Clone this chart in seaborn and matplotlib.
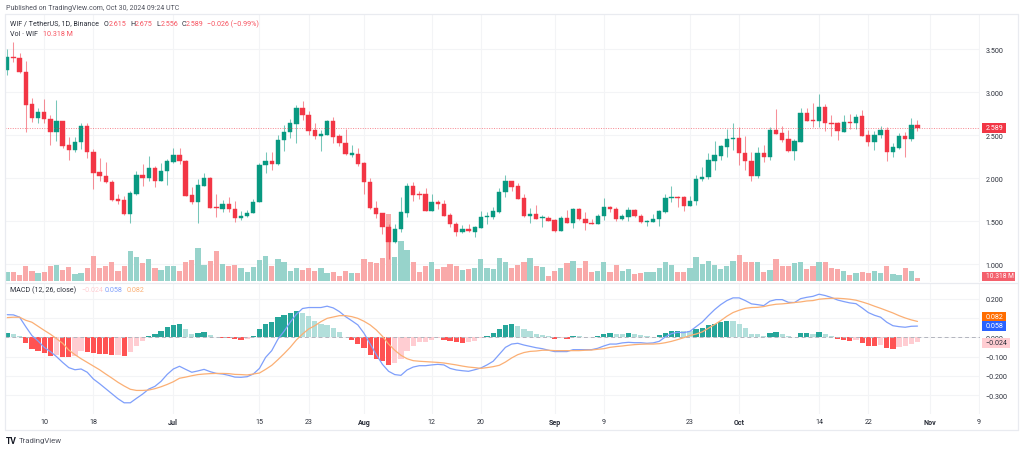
import numpy as np
import pandas as pd
import matplotlib
matplotlib.use("Agg")
import matplotlib.pyplot as plt
from matplotlib.lines import Line2D
from matplotlib.patches import Rectangle
from matplotlib.ticker import FuncFormatter, FixedLocator
import seaborn as sns

start_date = "2024-06-04"

opens = [3.263,3.414,3.399,3.236,2.861,2.701,2.775,2.690,2.538,2.666,
2.387,2.329,2.419,2.608,2.309,2.070,2.023,1.954,1.759,1.744,
1.581,1.817,2.038,2.000,2.116,1.972,2.081,2.186,2.271,2.205,
1.809,1.721,1.914,2.007,1.670,1.643,1.701,1.643,1.535,1.565,
1.597,1.721,2.155,2.201,2.166,2.442,2.542,2.635,2.821,2.740,
2.558,2.492,2.507,2.666,2.492,2.414,2.275,2.283,2.178,1.961,
1.658,1.593,1.434,1.256,1.411,1.600,1.911,1.821,1.817,1.620,
1.721,1.701,1.570,1.469,1.379,1.414,1.379,1.422,1.547,1.550,
1.612,1.837,1.965,1.907,1.768,1.565,1.585,1.542,1.542,1.515,
1.387,1.538,1.480,1.640,1.530,1.484,1.469,1.562,1.666,1.647,
1.530,1.550,1.631,1.565,1.492,1.496,1.527,1.605,1.771,1.783,
1.779,1.682,1.736,1.988,2.012,2.205,2.263,2.368,2.461,2.465,
2.298,2.201,2.027,2.294,2.244,2.565,2.527,2.454,2.321,2.426,
2.763,2.678,2.663,2.829,2.647,2.640,2.542,2.658,2.640,2.721,
2.504,2.422,2.504,2.558,2.306,2.352,2.488,2.461,2.615]
highs = [3.504,3.588,3.454,3.361,2.937,2.818,2.919,2.733,2.911,2.672,
2.484,2.484,2.643,2.640,2.341,2.236,2.193,1.984,1.817,1.798,
1.856,2.088,2.166,2.263,2.147,2.178,2.225,2.352,2.352,2.211,
1.902,1.992,2.062,2.012,1.817,1.748,1.783,1.733,1.616,1.635,
1.759,2.178,2.302,2.302,2.504,2.620,2.690,2.852,2.895,2.779,
2.643,2.565,2.682,2.709,2.515,2.573,2.387,2.349,2.193,2.000,
1.733,1.600,1.469,1.469,1.779,1.945,1.953,1.856,1.891,1.817,
1.748,1.748,1.597,1.489,1.457,1.469,1.442,1.620,1.612,1.663,
1.891,2.038,1.972,1.942,1.817,1.655,1.690,1.573,1.565,1.527,
1.558,1.635,1.650,1.650,1.605,1.527,1.585,1.771,1.682,1.663,
1.585,1.663,1.643,1.585,1.519,1.585,1.635,1.817,1.907,1.798,
1.791,1.791,2.042,2.135,2.294,2.430,2.391,2.573,2.640,2.593,
2.495,2.302,2.368,2.387,2.593,2.806,2.605,2.565,2.457,2.821,
2.821,2.872,2.980,2.864,2.736,2.651,2.736,2.748,2.748,2.794,
2.565,2.554,2.605,2.593,2.407,2.523,2.542,2.701,2.675]
lows = [3.201,3.356,3.225,2.542,2.658,2.647,2.647,2.387,2.430,2.352,
2.213,2.306,2.341,2.233,1.876,1.972,1.945,1.740,1.701,1.577,
1.480,1.806,1.907,1.972,1.895,1.965,1.922,2.180,2.166,1.790,
1.701,1.480,1.907,1.649,1.553,1.606,1.605,1.495,1.519,1.553,
1.593,1.719,2.062,2.097,2.160,2.321,2.465,2.407,2.682,2.504,
2.457,2.321,2.504,2.410,2.379,2.275,2.251,2.147,1.817,1.647,
1.535,1.352,1.062,1.250,1.372,1.547,1.740,1.759,1.615,1.615,
1.643,1.560,1.430,1.333,1.364,1.372,1.321,1.419,1.469,1.527,
1.593,1.786,1.849,1.759,1.547,1.480,1.527,1.437,1.500,1.379,
1.384,1.480,1.419,1.519,1.402,1.465,1.465,1.515,1.612,1.500,
1.515,1.500,1.547,1.480,1.449,1.488,1.449,1.593,1.728,1.663,
1.623,1.678,1.693,1.965,1.988,2.097,2.216,2.251,2.329,2.155,
2.097,1.969,2.003,2.186,2.216,2.515,2.426,2.302,2.216,2.419,
2.663,2.593,2.593,2.554,2.495,2.445,2.535,2.573,2.573,2.492,
2.372,2.329,2.465,2.198,2.244,2.341,2.244,2.437,2.556]
closes = [3.414,3.395,3.233,2.856,2.701,2.775,2.690,2.538,2.666,2.379,
2.329,2.419,2.612,2.302,2.062,2.023,1.954,1.751,1.736,1.581,
1.826,2.038,2.000,2.116,1.972,2.088,2.198,2.271,2.198,1.798,
1.721,1.922,2.007,1.655,1.651,1.701,1.643,1.535,1.565,1.597,
1.728,2.155,2.201,2.166,2.442,2.542,2.640,2.821,2.736,2.554,
2.492,2.515,2.666,2.484,2.410,2.279,2.291,2.170,1.954,1.651,
1.585,1.430,1.256,1.414,1.605,1.911,1.809,1.809,1.620,1.721,
1.698,1.565,1.469,1.379,1.414,1.384,1.430,1.550,1.558,1.620,
1.844,1.965,1.902,1.763,1.565,1.585,1.530,1.554,1.504,1.387,
1.538,1.484,1.643,1.523,1.477,1.469,1.562,1.666,1.643,1.530,
1.562,1.631,1.558,1.488,1.504,1.527,1.616,1.767,1.783,1.771,
1.682,1.740,1.992,2.019,2.209,2.268,2.372,2.454,2.469,2.294,
2.201,2.027,2.294,2.248,2.565,2.519,2.449,2.318,2.434,2.763,
2.666,2.666,2.829,2.640,2.635,2.547,2.658,2.640,2.716,2.496,
2.422,2.507,2.558,2.306,2.360,2.488,2.461,2.616,2.589]
volumes_m = [32,32,23,55,38,29,34,55,60,41,52,26,29,49,94,49,58,73,38,55,
115,91,68,81,50,41,58,58,38,70,79,126,60,74,112,65,57,60,47,32,
52,79,93,55,83,70,38,50,41,47,38,47,29,34,18,
38,28,29,83,70,68,88,255,92,150,116,70,32,57,73,45,52,64,58,41,
43,50,81,50,43,87,70,47,61,73,88,56,52,19,38,50,68,75,49,76,
32,37,70,33,61,38,43,26,28,32,34,50,70,60,34,
33,49,91,65,75,61,43,55,75,99,73,70,73,34,41,81,56,57,68,73,
45,57,73,73,50,45,37,23,29,34,31,38,31,55,27,22,49,38,10.318]
histogram = [.021,.017,.005,-.031,-.060,-.071,-.081,-.095,-.090,-.100,
-.104,-.095,-.073,-.074,-.081,-.085,-.086,-.092,-.090,-.095,
-.074,-.043,-.021,.005,.016,.031,.052,.062,.069,.043,
.019,.022,.026,.012,.002,-.002,-.005,-.009,-.012,-.007,
.007,.045,.067,.079,.104,.117,.124,.138,.124,.112,
.083,.069,.062,.048,.026,.002,-.014,-.035,-.055,-.090,
-.112,-.124,-.143,-.135,-.112,-.069,-.043,-.026,-.024,-.012,
-.005,-.012,-.017,-.026,-.027,-.022,-.017,-.003,.009,.021,
.041,.062,.069,.060,.043,.031,.017,.010,.005,-.010,
-.003,-.009,.009,.005,.004,.002,.009,.017,.021,.017,
.016,.021,.016,.010,.005,.003,.010,.024,.031,.035,
.033,.031,.041,.048,.064,.069,.078,.086,.083,.069,
.047,.019,.016,.007,.024,.026,.017,.007,.002,.021,
.022,.019,.026,.016,.005,-.010,-.014,-.021,-.014,-.031,
-.045,-.047,-.040,-.055,-.062,-.052,-.043,-.035,-.024]
macd_line = [.117,.116,.104,.055,.009,-.019,-.052,-.074,-.100,-.130,
-.157,-.168,-.164,-.181,-.216,-.240,-.266,-.292,-.318,-.339,
-.339,-.316,-.294,-.268,-.254,-.228,-.192,-.164,-.150,-.166,
-.181,-.174,-.166,-.178,-.187,-.190,-.197,-.206,-.207,-.204,
-.190,-.161,-.104,-.069,-.010,.031,.078,.119,.149,.154,
.154,.154,.161,.152,.133,.107,.086,.064,.021,-.035,
-.090,-.140,-.176,-.193,-.197,-.169,-.154,-.147,-.147,-.143,
-.140,-.143,-.161,-.169,-.173,-.176,-.168,-.159,-.143,-.124,
-.088,-.052,-.035,-.031,-.040,-.047,-.054,-.059,-.067,-.074,
-.074,-.074,-.064,-.064,-.064,-.064,-.057,-.045,-.035,-.035,
-.029,-.026,-.028,-.028,-.031,-.029,-.021,.002,.019,.026,
.024,.031,.055,.079,.112,.143,.169,.190,.204,.204,
.190,.173,.169,.164,.187,.195,.195,.181,.180,.200,
.207,.212,.223,.216,.206,.193,.185,.178,.174,.152,
.128,.114,.104,.078,.060,.055,.052,.057,.058]
signal_line = [.102,.104,.104,.088,.078,.057,.036,.016,-.007,-.031,
-.066,-.090,-.111,-.130,-.149,-.168,-.190,-.211,-.233,-.252,
-.269,-.275,-.275,-.273,-.266,-.256,-.244,-.230,-.212,-.206,
-.199,-.193,-.190,-.188,-.187,-.187,-.188,-.192,-.193,-.195,
-.190,-.185,-.166,-.145,-.116,-.085,-.052,-.014,.017,.043,
.060,.081,.098,.105,.112,.112,.107,.098,.083,.064,
.038,.005,-.035,-.067,-.093,-.111,-.121,-.124,-.126,-.128,
-.130,-.133,-.138,-.143,-.149,-.154,-.157,-.161,-.157,-.152,
-.145,-.128,-.107,-.090,-.079,-.073,-.071,-.067,-.067,-.069,
-.069,-.069,-.069,-.069,-.067,-.066,-.062,-.059,-.052,-.048,
-.045,-.041,-.038,-.036,-.035,-.035,-.033,-.028,-.021,-.012,
-.002,.009,.017,.028,.047,.066,.086,.109,.128,.140,
.150,.154,.155,.159,.166,.171,.173,.176,.180,.183,
.188,.190,.197,.200,.202,.202,.200,.197,.192,.183,
.173,.161,.150,.138,.126,.112,.100,.090,.082]
tick_dates = ["2024-06-10","2024-06-18","2024-07-01","2024-07-15","2024-07-23","2024-08-01","2024-08-12",
              "2024-08-20","2024-09-01","2024-09-09","2024-09-23","2024-10-01","2024-10-14","2024-10-22",
              "2024-11-01","2024-11-09"]
tick_labels = ["10","18","Jul","15","23","Aug","12","20","Sep","9","23","Oct","14","22","Nov","9"]
price_ticks = [1.0,1.5,2.0,2.5,3.0,3.5]
macd_ticks = [-.3,-.2,-.1,0.0,.1,.2]
macd_tick_text = {-.3:"−0.300",-.2:"−0.200",-.1:"−0.100",0.0:"0.000",.2:"0.200"}

UP, DOWN = "#089981", "#F23645"
VOL_UP, VOL_DOWN = "#97D3CB", "#F9A9A9"
H_UP, H_UPF, H_DN, H_DNF = "#26A69A", "#B2DFDB", "#FF5252", "#FFCDD2"
GRID = "#F3F4F6"
BORDER = "#E9EBF0"
TEXT = "#2A2E39"
FONT = "Roboto"
FS = 5.1

sns.set_style("white")
plt.rcParams["font.family"] = [FONT, "DejaVu Sans"]
W, H = 1024, 452
fig = plt.figure(figsize=(W/100, H/100), dpi=100)

def axes_px(l, t, r, b):
    return fig.add_axes([l/W, 1-b/H, (r-l)/W, (b-t)/H])

L, R = 5, 980
ax_p = axes_px(L, 15, R, 283)
ax_m = axes_px(L, 284, R, 415)
ax_v = axes_px(L, 15, R, 283)
ax_c = axes_px(L, 15, R, 283)
for a, z in ((ax_p, 0), (ax_v, 1), (ax_c, 2), (ax_m, 0)):
    a.set_zorder(z)
ax_v.patch.set_alpha(0); ax_c.patch.set_alpha(0)

o, h, l, c = map(np.array, (opens, highs, lows, closes))
n = len(o)
assert all(len(s) == n for s in (h, l, c, volumes_m, histogram, macd_line, signal_line)), \
    [len(s) for s in (h, l, c, volumes_m, histogram, macd_line, signal_line)]
days = np.arange(n)
rising = c >= o
hist = np.array(histogram)
ticks = (pd.to_datetime(tick_dates) - pd.Timestamp(start_date)).days.values

# volume
vdf = pd.DataFrame({"day": days, "vol": volumes_m, "dir": np.where(rising, "up", "down")})
sns.barplot(data=vdf, x="day", y="vol", hue="dir", palette={"up": VOL_UP, "down": VOL_DOWN},
            native_scale=True, dodge=False, width=0.86, errorbar=None, saturation=1,
            legend=False, linewidth=0, ax=ax_v)

# candles
cols = np.where(rising, UP, DOWN)
ax_c.vlines(days, l, h, colors=cols, linewidth=0.75, alpha=0.55)
ax_c.bar(days, np.abs(c-o), bottom=np.minimum(o, c), width=0.7, color=cols, edgecolor=cols, linewidth=0.3)
ax_c.axhline(2.589, color=DOWN, lw=0.7, ls=(0, (1, 1.5)), alpha=0.6)

# MACD histogram
prev = np.r_[hist[0]-.001, hist[:-1]]
kind = np.where(hist >= 0, np.where(hist >= prev, "a", "b"), np.where(hist <= prev, "c", "d"))
hdf = pd.DataFrame({"day": days, "hist": hist, "kind": kind})
sns.barplot(data=hdf, x="day", y="hist", hue="kind",
            palette={"a": H_UP, "b": H_UPF, "c": H_DN, "d": H_DNF},
            native_scale=True, dodge=False, width=0.86, errorbar=None, saturation=1,
            legend=False, linewidth=0, ax=ax_m)
ax_m.axhline(0, color="#B2B5BE", lw=0.7, ls=(0, (4, 3)))
sns.lineplot(x=days, y=macd_line, color="#7F9FFB", lw=0.9, ax=ax_m, zorder=4)
sns.lineplot(x=days, y=signal_line, color="#FBAF74", lw=0.9, ax=ax_m, zorder=5)

# scales
px_day = 6.15
x0 = 7.3
xlim = ((L-x0)/px_day, (R-x0)/px_day)
ylim_p = (0.794, 3.911)
for a in (ax_p, ax_v, ax_c, ax_m):
    a.set_xlim(*xlim)
    a.set_xlabel(""); a.set_ylabel("")
ax_p.set_ylim(*ylim_p); ax_c.set_ylim(*ylim_p)
ax_v.set_ylim(-5, 1019)
ax_m.set_ylim(-.397, .281)
ax_v.axis("off"); ax_c.axis("off")

for a in (ax_p, ax_m):
    a.xaxis.set_major_locator(FixedLocator(ticks))
    a.grid(True, color=GRID, lw=0.8)
    a.set_axisbelow(True)
    a.yaxis.tick_right()
    for s in a.spines.values():
        s.set_visible(False)
ax_p.xaxis.set_ticklabels([])
ax_p.tick_params(axis="x", length=0)
ax_p.yaxis.set_major_locator(FixedLocator(price_ticks))
ax_p.yaxis.set_major_formatter(FuncFormatter(lambda v, _: f"{v:.3f}"))
ax_p.tick_params(axis="y", length=0, pad=4, labelsize=FS, labelcolor=TEXT)
ax_m.yaxis.set_major_locator(FixedLocator(macd_ticks))
ax_m.yaxis.set_major_formatter(FuncFormatter(lambda v, _: macd_tick_text.get(round(v, 1), "")))
ax_m.tick_params(axis="y", length=0, pad=4, labelsize=FS, labelcolor=TEXT)
ax_m.set_xticklabels(tick_labels)
ax_m.tick_params(axis="x", length=0, pad=3.2, labelsize=FS, labelcolor=TEXT)
for t, s in zip(ax_m.get_xticklabels(), tick_labels):
    if s.isalpha():
        t.set_fontweight("bold")

# frame around the chart and the pane separator
def frame_line(x1, y1, x2, y2):
    fig.add_artist(Line2D([x1/W, x2/W], [1-y1/H, 1-y2/H], transform=fig.transFigure,
                          color=BORDER, lw=0.9, zorder=3))
frame_line(5, 15, 1018, 15)
frame_line(5, 431, 1018, 431)
frame_line(5, 15, 5, 431)
frame_line(1018, 15, 1018, 431)
frame_line(5, 283.5, 1018, 283.5)

# text helpers
def txt(x, y, s, color=TEXT, size=FS, **kw):
    return fig.text(x/W, 1-y/H, s, color=color, fontsize=size, va="center", zorder=7, **kw)

def box(x0_, x1_, y, s, bg, fg="white", hgt=10, size=FS):
    fig.add_artist(Rectangle((x0_/W, 1-(y+hgt/2)/H), (x1_-x0_)/W, hgt/H, transform=fig.transFigure,
                             facecolor=bg, edgecolor="none", zorder=6))
    txt(x0_+3.7, y, s, color=fg, size=size)

# header and legends
txt(6, 8.5, "Published on TradingView.com, Oct 30, 2024 09:24 UTC", color="#50535E", size=5.0)
RED = "#F7525F"
txt(10, 24, "WIF / TetherUS, 1D, Binance")
for xp, s, col in [(104, "O", TEXT), (109, "2.615", RED), (130.7, "H", TEXT), (135, "2.675", RED),
                   (156.7, "L", TEXT), (160.7, "2.556", RED), (181.7, "C", TEXT), (186, "2.589", RED),
                   (207, "−0.026 (−0.99%)", RED)]:
    txt(xp, 24, s, color=col)
txt(10, 34, "Vol · WIF")
txt(43, 34, "10.318 M", color=RED)
txt(10, 290.7, "MACD (12, 26, close)")
txt(81.7, 290.7, "−0.024", color="#FFCDD2")
txt(105, 290.7, "0.058", color="#7F9FFB")
txt(126.7, 290.7, "0.082", color="#FBAF74")

# value tags
box(982, 1006, 129, "2.589", DOWN)
box(982, 1014.5, 277, "10.318 M", "#F4606C", hgt=9, size=4.8)
box(982, 1006, 317.5, "0.082", "#FF6D00")
box(982, 1006, 327, "0.058", "#2962FF")
box(982, 1009.5, 343.5, "−0.024", "#FFCDD2", fg=TEXT)

# branding
txt(6, 441.5, "TV", color="#131722", size=6.2, fontweight="bold")
txt(19, 441.5, "TradingView", color="#50535E", size=5.6)

fig.savefig("out.png", dpi=100)
